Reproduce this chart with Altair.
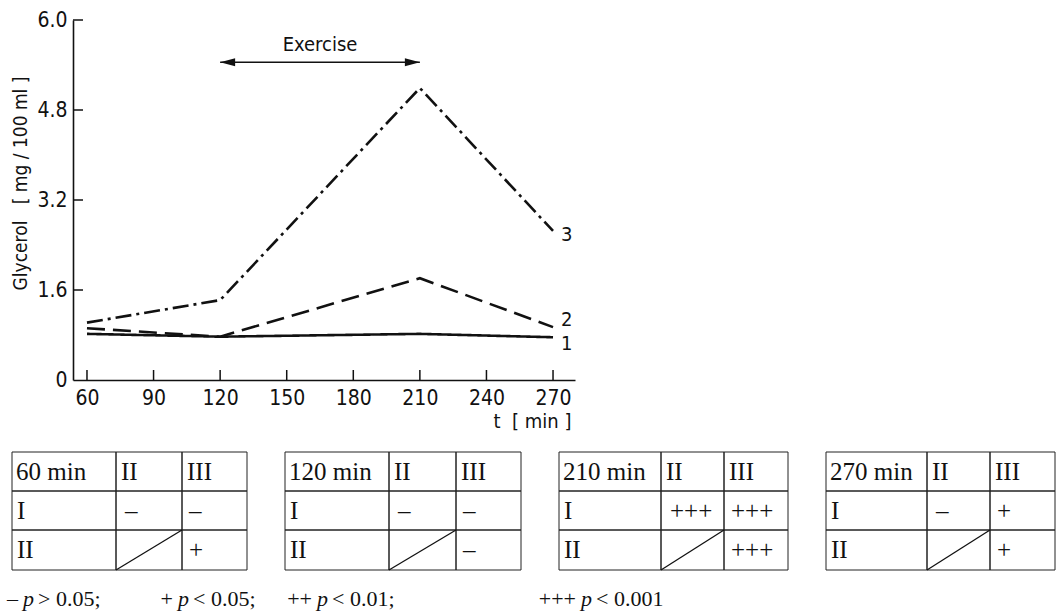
import altair as alt
import pandas as pd

# ---------------- data ----------------
t_min = [60, 120, 210, 270]
glycerol_1 = [0.82, 0.77, 0.82, 0.76]
glycerol_2 = [0.92, 0.77, 1.81, 0.94]
glycerol_3 = [1.02, 1.42, 5.19, 2.65]
series_names = ["1", "2", "3"]
series_label_y = [0.64, 1.07, 2.57]

x_ticks = [60, 90, 120, 150, 180, 210, 240, 270]
y_ticks = [0, 1.6, 3.2, 4.8, 6.4]

exercise_span = [120, 210]
exercise_level = 5.65
exercise_text_level = 5.96

table_titles = ["60 min", "120 min", "210 min", "270 min"]
col_heads = ["II", "III"]
row_heads = ["I", "II"]
I_vs_II = ["–", "–", "+++", "–"]
I_vs_III = ["–", "–", "+++", "+"]
II_vs_III = ["+", "–", "+++", "+"]

legend_signs = ["–", "+", "++", "+++"]
legend_rel = ["> 0.05;", "< 0.05;", "< 0.01;", "< 0.001"]

# ---------------- layout (pixels) ----------------
W, H = 1057, 613
PL, PT = 73, 20
PW, PH = 502, 360
table_edges = [
    [12, 116, 182, 247],
    [285, 389, 456, 521],
    [559, 661, 724, 788],
    [826, 927, 990, 1055],
]
row_edges = [452, 491, 530, 570]
legend_p_x = [23, 178, 317, 581]
legend_y = 606

NARROW = "'Liberation Sans Narrow', 'DejaVu Sans Condensed', sans-serif"
SERIF = "'Liberation Serif', 'Times New Roman', serif"
INK = "#111111"

# ---------------- main plot ----------------
line_df = pd.DataFrame({
    "t": t_min * 3,
    "g": glycerol_1 + glycerol_2 + glycerol_3,
    "series": [series_names[0]] * 4 + [series_names[1]] * 4 + [series_names[2]] * 4,
})

xs = alt.Scale(domain=[53.7, 279.9], nice=False, zero=False)
ys = alt.Scale(domain=[0, 6.4], nice=False, zero=False)

x_axis = alt.Axis(
    values=x_ticks, ticks=False, grid=False, labelFont=NARROW, labelFontSize=21,
    labelColor=INK, labelPadding=7, domainColor=INK, domainWidth=1.6,
    title="t\u00a0\u00a0[\u00a0min\u00a0]", titleFont=NARROW, titleFontSize=20,
    titleFontWeight="normal", titleColor=INK, titleX=459, titleY=41,
    titleAlign="center", titleBaseline="middle",
)
y_axis = alt.Axis(
    values=y_ticks, ticks=False, grid=False, labelFont=NARROW, labelFontSize=21,
    labelColor=INK, labelPadding=6, domainColor=INK, domainWidth=1.6,
    labelExpr="datum.value == 6.4 ? '6.0' : (datum.value == 0 ? '0' : format(datum.value, '.1f'))",
    title="Glycerol\u00a0\u00a0\u00a0[\u00a0mg\u00a0/\u00a0100\u00a0ml\u00a0]",
    titleFont=NARROW, titleFontSize=19, titleFontWeight="normal", titleColor=INK,
    titleAngle=270, titleX=-53, titleY=163, titleAlign="center", titleBaseline="middle",
)

lines = alt.Chart(line_df).mark_line(color=INK, strokeWidth=2.6).encode(
    x=alt.X("t:Q", scale=xs, axis=x_axis),
    y=alt.Y("g:Q", scale=ys, axis=y_axis),
    strokeDash=alt.StrokeDash(
        "series:N",
        scale=alt.Scale(domain=series_names, range=[[1, 0], [18, 8], [16, 5, 3, 5]]),
        legend=None,
    ),
    detail="series:N",
)

xt = alt.Chart(pd.DataFrame({"t": x_ticks})).mark_rule(color=INK, strokeWidth=1.5).encode(
    x=alt.X("t:Q", scale=xs), y=alt.value(PH), y2=alt.value(PH - 10)
)
yt = alt.Chart(pd.DataFrame({"g": y_ticks[1:]})).mark_rule(color=INK, strokeWidth=1.5).encode(
    y=alt.Y("g:Q", scale=ys), x=alt.value(0), x2=alt.value(10)
)

lab_df = pd.DataFrame({"t": [t_min[-1]] * 3, "g": series_label_y, "s": series_names})
labels = alt.Chart(lab_df).mark_text(
    align="left", baseline="middle", dx=8, font=NARROW, fontSize=20, color=INK
).encode(x=alt.X("t:Q", scale=xs), y=alt.Y("g:Q", scale=ys), text="s:N")

arr_df = pd.DataFrame({"t": [exercise_span[0]], "t2": [exercise_span[1]], "g": [exercise_level]})
arrow = alt.Chart(arr_df).mark_rule(color=INK, strokeWidth=1.6).encode(
    x=alt.X("t:Q", scale=xs), x2="t2:Q", y=alt.Y("g:Q", scale=ys)
)
headL = alt.Chart(pd.DataFrame({"t": [exercise_span[0]], "g": [exercise_level]})).mark_point(
    shape="M0,0L1,-0.27L1,0.27Z", size=900, filled=True, color=INK, opacity=1
).encode(x=alt.X("t:Q", scale=xs), y=alt.Y("g:Q", scale=ys))
headR = alt.Chart(pd.DataFrame({"t": [exercise_span[1]], "g": [exercise_level]})).mark_point(
    shape="M0,0L-1,-0.27L-1,0.27Z", size=900, filled=True, color=INK, opacity=1
).encode(x=alt.X("t:Q", scale=xs), y=alt.Y("g:Q", scale=ys))
ex_df = pd.DataFrame({"t": [sum(exercise_span) / 2], "g": [exercise_text_level], "s": ["Exercise"]})
ex_text = alt.Chart(ex_df).mark_text(
    font=NARROW, fontSize=20, color=INK, baseline="middle", align="center"
).encode(x=alt.X("t:Q", scale=xs), y=alt.Y("g:Q", scale=ys), text="s:N")

plot = alt.layer(lines, xt, yt, labels, arrow, headL, headR, ex_text)

# ---------------- significance tables ----------------
cx = alt.Scale(domain=[0, W], range=[-PL, W - PL], nice=False, zero=False)
cy = alt.Scale(domain=[0, H], range=[-PT, H - PT], nice=False, zero=False)

cells, texts, diags = [], [], []
for k, title in enumerate(table_titles):
    e = table_edges[k]
    for r in range(3):
        for c in range(3):
            cells.append({"x": e[c], "x2": e[c + 1], "y": row_edges[r], "y2": row_edges[r + 1]})
    mids = [(row_edges[r] + row_edges[r + 1]) / 2 for r in range(3)]
    texts.append({"x": e[0] + 4, "y": mids[0], "s": title})
    texts.append({"x": e[1] + 5, "y": mids[0], "s": col_heads[0]})
    texts.append({"x": e[2] + 5, "y": mids[0], "s": col_heads[1]})
    texts.append({"x": e[0] + 5, "y": mids[1], "s": row_heads[0]})
    texts.append({"x": e[0] + 5, "y": mids[2], "s": row_heads[1]})
    texts.append({"x": e[1] + 9, "y": mids[1], "s": I_vs_II[k]})
    texts.append({"x": e[2] + 7, "y": mids[1], "s": I_vs_III[k]})
    texts.append({"x": e[2] + 7, "y": mids[2], "s": II_vs_III[k]})
    diags.append({"x": e[1], "y": row_edges[3], "x2": e[2], "y2": row_edges[2]})

cell_layer = alt.Chart(pd.DataFrame(cells)).mark_rect(
    fill=None, stroke="#222222", strokeWidth=1
).encode(
    x=alt.X("x:Q", scale=cx, axis=None), x2="x2:Q",
    y=alt.Y("y:Q", scale=cy, axis=None), y2="y2:Q",
)
text_layer = alt.Chart(pd.DataFrame(texts)).mark_text(
    align="left", baseline="middle", font=SERIF, fontSize=25, color=INK
).encode(x=alt.X("x:Q", scale=cx, axis=None), y=alt.Y("y:Q", scale=cy, axis=None), text="s:N")
diag_layer = alt.Chart(pd.DataFrame(diags)).mark_rule(color=INK, strokeWidth=1.3).encode(
    x=alt.X("x:Q", scale=cx, axis=None), x2="x2:Q",
    y=alt.Y("y:Q", scale=cy, axis=None), y2="y2:Q",
)

leg_sign = pd.DataFrame({"x": [p - 5 for p in legend_p_x], "y": [legend_y] * 4, "s": legend_signs})
leg_p = pd.DataFrame({"x": legend_p_x, "y": [legend_y] * 4, "s": ["p"] * 4})
leg_rel = pd.DataFrame({"x": [p + 15 for p in legend_p_x], "y": [legend_y] * 4, "s": legend_rel})

def leg(df, align, style):
    return alt.Chart(df).mark_text(
        align=align, baseline="alphabetic", font=SERIF, fontSize=22, fontStyle=style, color=INK
    ).encode(x=alt.X("x:Q", scale=cx, axis=None), y=alt.Y("y:Q", scale=cy, axis=None), text="s:N")

tables = alt.layer(
    cell_layer, text_layer, diag_layer,
    leg(leg_sign, "right", "normal"), leg(leg_p, "left", "italic"), leg(leg_rel, "left", "normal"),
)

chart = alt.layer(plot, tables).resolve_scale(x="independent", y="independent").properties(
    width=PW, height=PH,
    padding={"left": PL, "top": PT, "right": W - PL - PW, "bottom": H - PT - PH},
    autosize=alt.AutoSizeParams(type="none"),
    background="white",
).configure_view(stroke=None)

chart.save("out.html", embed_options={"renderer": "svg", "actions": False})
